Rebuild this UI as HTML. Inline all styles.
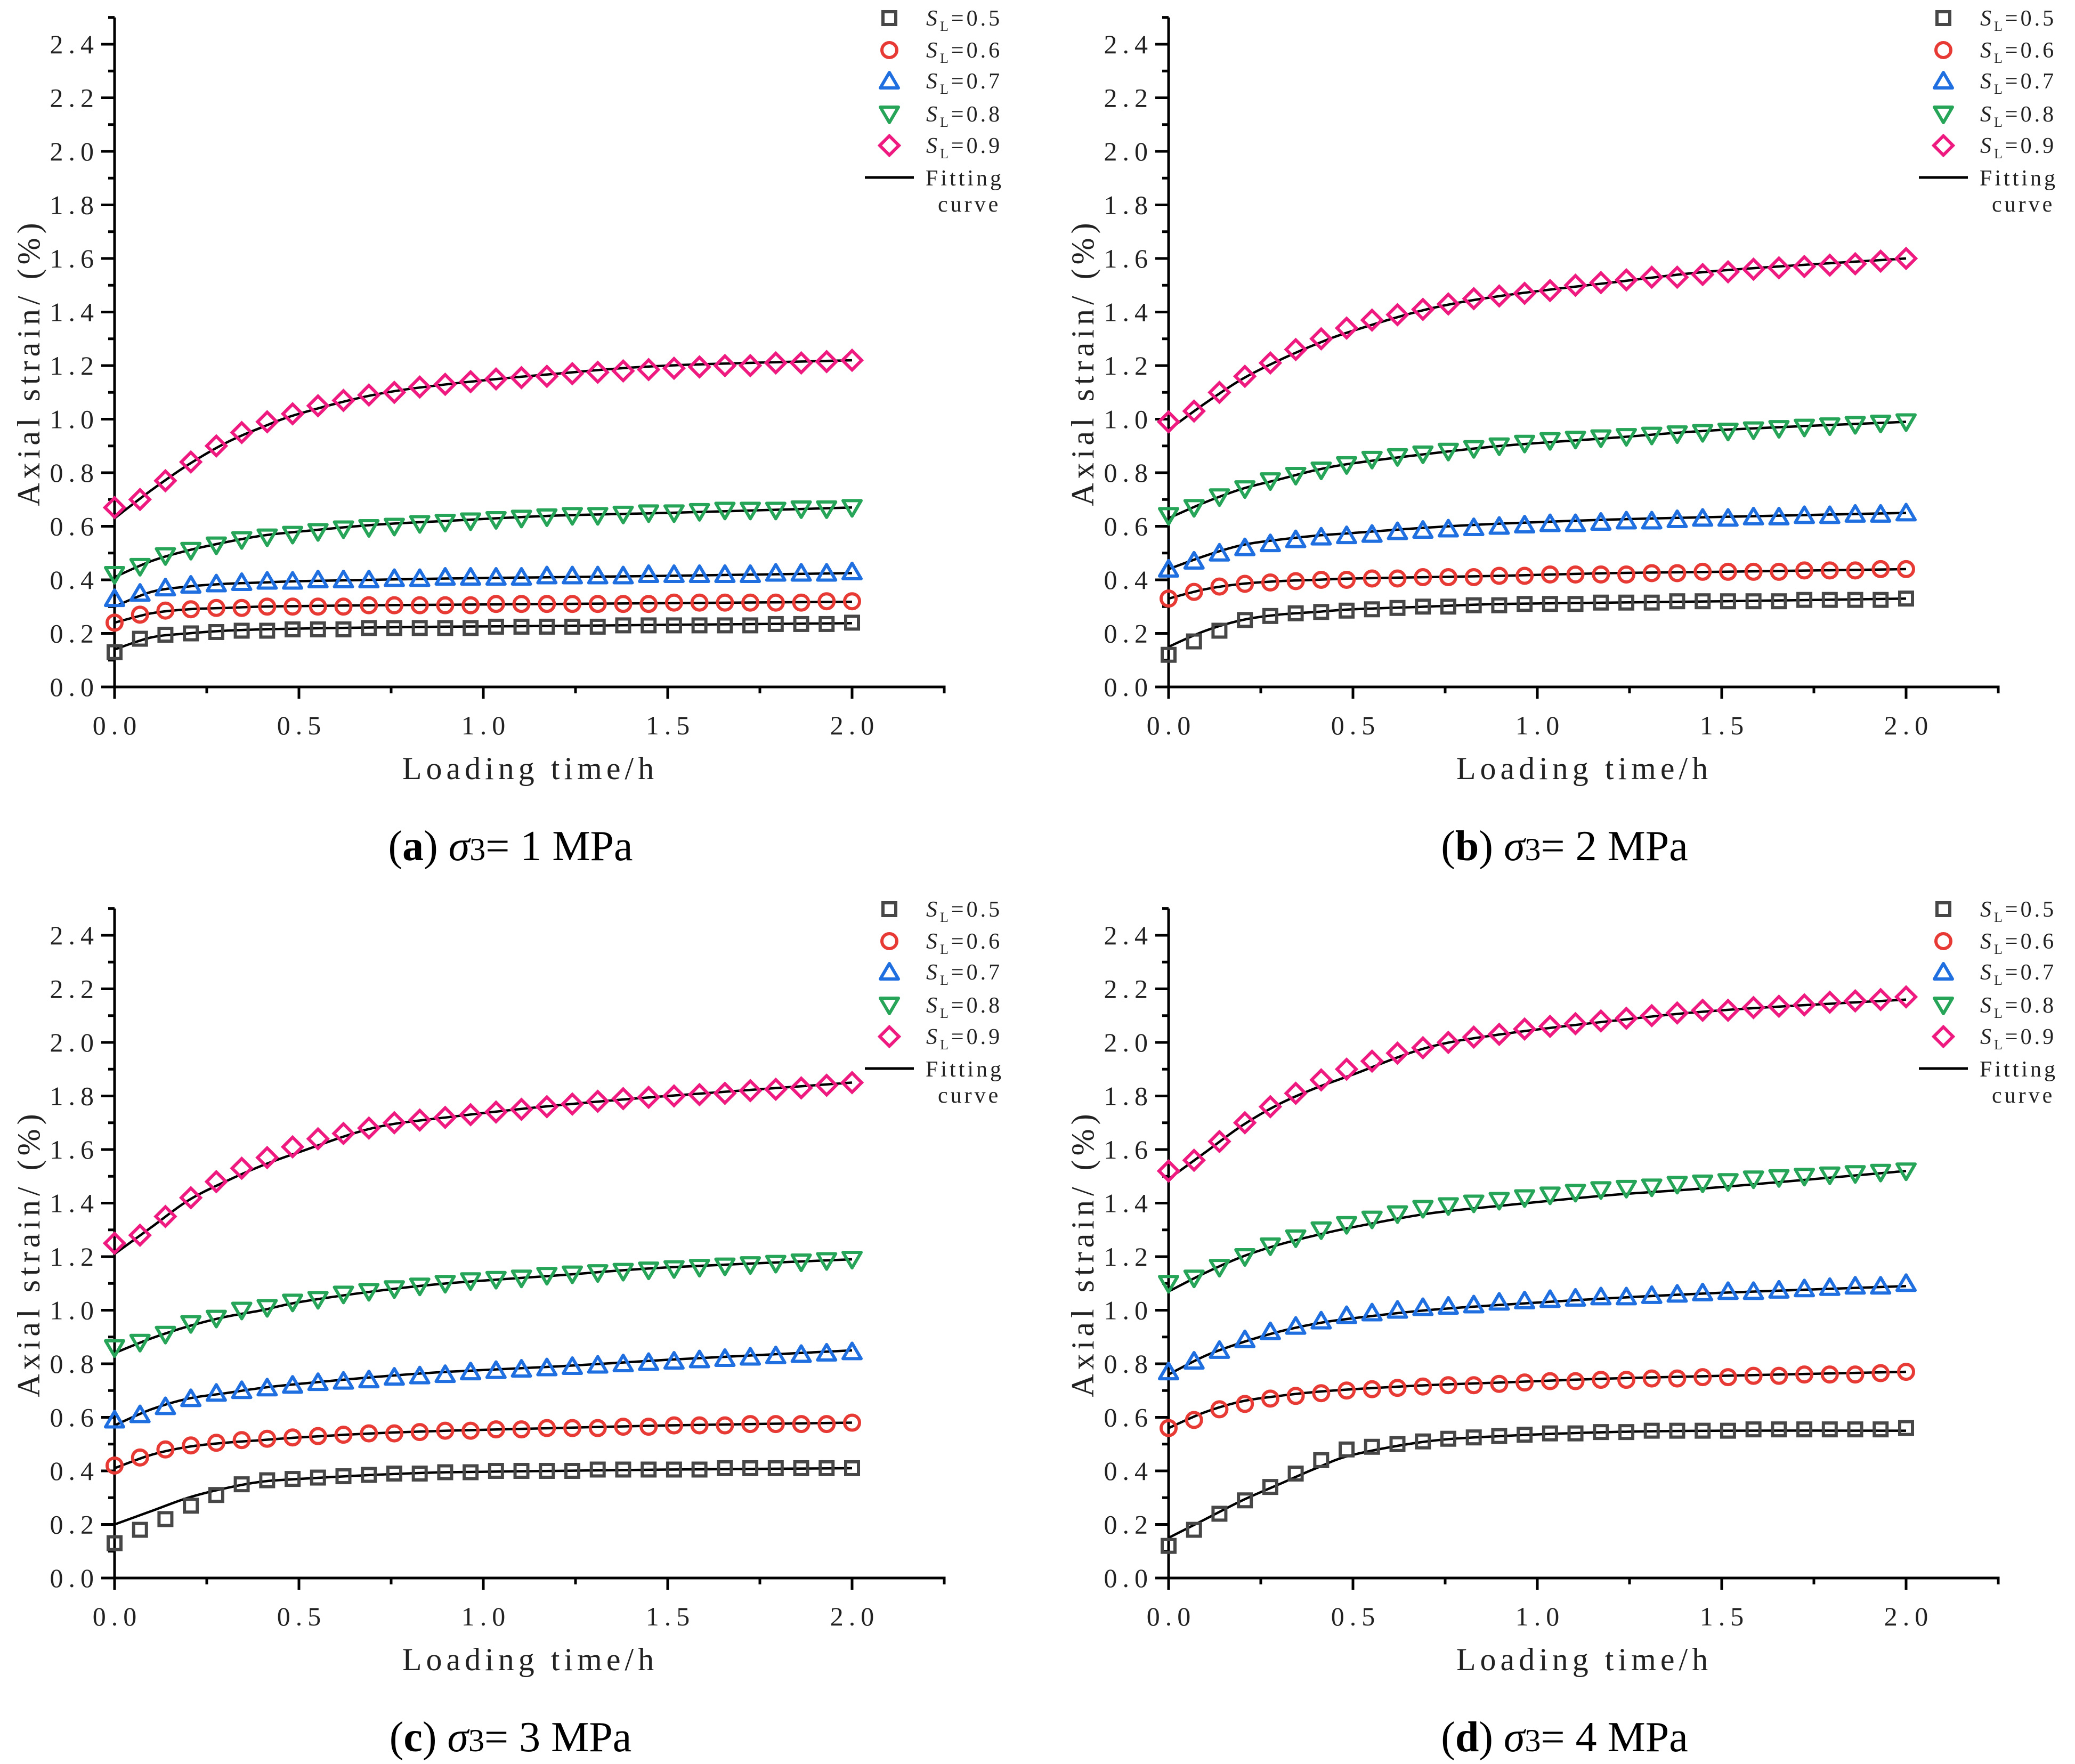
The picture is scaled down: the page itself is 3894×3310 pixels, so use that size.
<!DOCTYPE html>
<html><head><meta charset="utf-8"><style>
html,body{margin:0;padding:0;background:#fff;}
svg{display:block;}
.tk{font-family:"Liberation Serif","Noto Serif CJK SC",serif;font-size:50px;fill:#222;letter-spacing:10px;}
.at{font-family:"Liberation Serif","Noto Serif CJK SC",serif;font-size:60px;fill:#222;letter-spacing:8px;}
.lg{font-family:"Liberation Serif",serif;font-size:42px;fill:#222;letter-spacing:5px;}
.cap{font-family:"Liberation Serif",serif;font-size:80px;fill:#000;}
</style></head><body>
<svg id="fig" width="3894" height="3310" viewBox="0 0 3894 3310" xmlns="http://www.w3.org/2000/svg"></svg>
<script>
const tData = []; // 30 sample times, 0..2 h
for (let i = 0; i < 30; i++) tData.push(+(i * 2 / 29).toFixed(4));
const tFit = [0,0.1,0.2,0.3,0.4,0.5,0.7,0.9,1.2,1.5,2.0];
const seriesLabels = ["SL=0.5","SL=0.6","SL=0.7","SL=0.8","SL=0.9"];
const yTicks = [0,0.2,0.4,0.6,0.8,1.0,1.2,1.4,1.6,1.8,2.0,2.2,2.4];
const xTicks = [0,0.5,1.0,1.5,2.0];
const captionsLetter = ["a","b","c","d"];
const captionsValue = ["1","2","3","4"];

const a05=[0.13,0.18,0.195,0.20,0.205,0.21,0.21,0.215,0.215,0.215,0.22,0.22,0.22,0.22,0.22,0.225,0.225,0.225,0.225,0.225,0.23,0.23,0.23,0.23,0.23,0.23,0.235,0.235,0.235,0.24];
const a06=[0.24,0.27,0.285,0.29,0.295,0.295,0.30,0.30,0.30,0.30,0.305,0.305,0.305,0.305,0.305,0.31,0.31,0.31,0.31,0.31,0.31,0.31,0.315,0.315,0.315,0.315,0.315,0.315,0.32,0.32];
const a07=[0.33,0.35,0.37,0.38,0.385,0.39,0.395,0.395,0.40,0.40,0.40,0.405,0.405,0.41,0.41,0.41,0.41,0.415,0.415,0.415,0.415,0.42,0.42,0.42,0.42,0.42,0.425,0.425,0.425,0.43];
const a08=[0.42,0.45,0.49,0.51,0.53,0.55,0.56,0.57,0.58,0.59,0.595,0.60,0.61,0.615,0.62,0.625,0.63,0.635,0.64,0.64,0.645,0.65,0.65,0.655,0.66,0.66,0.66,0.665,0.665,0.67];
const a09=[0.67,0.70,0.77,0.84,0.90,0.95,0.99,1.02,1.05,1.07,1.09,1.10,1.12,1.13,1.14,1.15,1.155,1.16,1.17,1.175,1.18,1.185,1.19,1.195,1.20,1.20,1.21,1.21,1.215,1.22];
const aF05=[0.14,0.185,0.20,0.21,0.215,0.218,0.222,0.225,0.228,0.232,0.238];
const aF06=[0.24,0.275,0.29,0.295,0.30,0.302,0.305,0.307,0.31,0.313,0.318];
const aF07=[0.30,0.355,0.375,0.385,0.39,0.395,0.40,0.405,0.41,0.415,0.425];
const aF08=[0.41,0.47,0.51,0.54,0.565,0.58,0.605,0.62,0.64,0.65,0.67];
const aF09=[0.63,0.735,0.83,0.91,0.97,1.02,1.09,1.13,1.17,1.20,1.22];

const b05=[0.12,0.17,0.21,0.25,0.265,0.275,0.28,0.285,0.29,0.295,0.30,0.30,0.305,0.305,0.31,0.31,0.31,0.315,0.315,0.315,0.32,0.32,0.32,0.32,0.32,0.325,0.325,0.325,0.325,0.33];
const b06=[0.33,0.355,0.375,0.385,0.39,0.395,0.40,0.40,0.405,0.405,0.41,0.41,0.41,0.415,0.415,0.42,0.42,0.42,0.42,0.425,0.425,0.43,0.43,0.43,0.43,0.435,0.435,0.435,0.44,0.44];
const b07=[0.44,0.47,0.50,0.52,0.535,0.55,0.56,0.565,0.57,0.58,0.585,0.59,0.595,0.60,0.605,0.61,0.61,0.615,0.62,0.62,0.625,0.63,0.63,0.635,0.635,0.64,0.64,0.645,0.645,0.65];
const b08=[0.64,0.67,0.71,0.74,0.77,0.79,0.81,0.83,0.85,0.86,0.87,0.88,0.89,0.90,0.91,0.92,0.925,0.93,0.935,0.94,0.945,0.95,0.955,0.96,0.965,0.97,0.975,0.98,0.985,0.99];
const b09=[0.99,1.03,1.10,1.16,1.21,1.26,1.30,1.34,1.37,1.39,1.41,1.43,1.45,1.46,1.47,1.48,1.50,1.51,1.52,1.53,1.53,1.54,1.55,1.56,1.565,1.57,1.575,1.58,1.59,1.60];
const bF05=[0.15,0.21,0.25,0.27,0.28,0.29,0.30,0.31,0.315,0.32,0.33];
const bF06=[0.33,0.365,0.385,0.395,0.40,0.405,0.41,0.415,0.425,0.43,0.44];
const bF07=[0.44,0.49,0.53,0.55,0.565,0.575,0.595,0.61,0.625,0.635,0.65];
const bF08=[0.63,0.69,0.74,0.775,0.81,0.835,0.87,0.90,0.93,0.96,0.99];
const bF09=[0.96,1.06,1.15,1.22,1.28,1.33,1.41,1.46,1.51,1.555,1.60];

const c05=[0.13,0.18,0.22,0.27,0.31,0.35,0.365,0.37,0.375,0.38,0.385,0.39,0.39,0.395,0.395,0.40,0.40,0.40,0.40,0.405,0.405,0.405,0.405,0.405,0.41,0.41,0.41,0.41,0.41,0.41];
const c06=[0.42,0.45,0.48,0.495,0.505,0.515,0.52,0.525,0.53,0.535,0.54,0.54,0.545,0.55,0.55,0.555,0.555,0.56,0.56,0.56,0.565,0.565,0.57,0.57,0.57,0.575,0.575,0.575,0.575,0.58];
const c07=[0.59,0.61,0.64,0.67,0.69,0.70,0.71,0.72,0.73,0.735,0.74,0.75,0.755,0.76,0.77,0.775,0.78,0.785,0.79,0.795,0.80,0.805,0.81,0.815,0.82,0.825,0.83,0.835,0.84,0.845];
const c08=[0.86,0.88,0.91,0.95,0.97,1.00,1.01,1.03,1.04,1.06,1.07,1.08,1.09,1.10,1.11,1.115,1.12,1.13,1.135,1.14,1.145,1.15,1.155,1.16,1.165,1.17,1.175,1.18,1.185,1.19];
const c09=[1.25,1.28,1.35,1.42,1.48,1.53,1.57,1.61,1.64,1.66,1.68,1.70,1.71,1.72,1.73,1.74,1.75,1.76,1.77,1.78,1.79,1.795,1.80,1.805,1.81,1.82,1.825,1.83,1.84,1.85];
const cF05=[0.20,0.25,0.30,0.335,0.36,0.37,0.385,0.395,0.40,0.405,0.41];
const cF06=[0.41,0.46,0.49,0.505,0.515,0.525,0.54,0.55,0.56,0.57,0.58];
const cF07=[0.57,0.63,0.67,0.69,0.71,0.725,0.75,0.77,0.79,0.815,0.85];
const cF08=[0.84,0.895,0.94,0.975,1.00,1.03,1.07,1.10,1.13,1.16,1.19];
const cF09=[1.21,1.31,1.41,1.48,1.54,1.59,1.68,1.72,1.765,1.80,1.85];

const d05=[0.12,0.18,0.24,0.29,0.34,0.39,0.44,0.48,0.49,0.50,0.51,0.52,0.525,0.53,0.535,0.54,0.54,0.545,0.545,0.55,0.55,0.55,0.55,0.555,0.555,0.555,0.555,0.555,0.555,0.56];
const d06=[0.56,0.59,0.63,0.65,0.67,0.68,0.69,0.70,0.705,0.71,0.715,0.72,0.72,0.725,0.73,0.735,0.735,0.74,0.74,0.745,0.745,0.75,0.75,0.755,0.755,0.76,0.76,0.76,0.765,0.77];
const d07=[0.77,0.81,0.85,0.89,0.92,0.94,0.96,0.98,0.99,1.00,1.01,1.015,1.02,1.03,1.035,1.04,1.045,1.05,1.05,1.055,1.06,1.065,1.07,1.07,1.075,1.08,1.085,1.09,1.09,1.10];
const d08=[1.10,1.12,1.16,1.20,1.24,1.27,1.30,1.32,1.34,1.36,1.38,1.39,1.40,1.41,1.42,1.43,1.44,1.45,1.455,1.46,1.47,1.475,1.48,1.49,1.495,1.50,1.505,1.51,1.515,1.52];
const d09=[1.52,1.56,1.63,1.70,1.76,1.81,1.86,1.90,1.93,1.96,1.98,2.00,2.02,2.03,2.05,2.06,2.07,2.08,2.09,2.10,2.11,2.12,2.12,2.13,2.135,2.14,2.15,2.155,2.16,2.17];
const dF05=[0.15,0.22,0.29,0.35,0.41,0.46,0.51,0.53,0.545,0.55,0.55];
const dF06=[0.56,0.62,0.66,0.68,0.695,0.705,0.72,0.73,0.745,0.755,0.77];
const dF07=[0.76,0.83,0.88,0.92,0.95,0.97,1.00,1.02,1.045,1.065,1.09];
const dF08=[1.07,1.14,1.20,1.245,1.28,1.31,1.36,1.39,1.43,1.46,1.52];
const dF09=[1.49,1.59,1.69,1.77,1.83,1.88,1.98,2.03,2.08,2.12,2.16];

const panelData=[[a05,a06,a07,a08,a09],[b05,b06,b07,b08,b09],[c05,c06,c07,c08,c09],[d05,d06,d07,d08,d09]];
const panelFits=[[aF05,aF06,aF07,aF08,aF09],[bF05,bF06,bF07,bF08,bF09],[cF05,cF06,cF07,cF08,cF09],[dF05,dF06,dF07,dF08,dF09]];

const NS="http://www.w3.org/2000/svg";
const svg=document.getElementById('fig');
const colors=["#474747","#e83a35","#1f6fe0","#26a458","#ee1a7f"];
const offs=[[0,0],[1978,0],[0,1672],[1978,1672]];
const X0=215,Y0=1289,PX=692,PY=502.5;
function mk(tag,attrs,parent){const e=document.createElementNS(NS,tag);for(const k in attrs)e.setAttribute(k,attrs[k]);(parent||svg).appendChild(e);return e;}
function smooth(pts){let d="M"+pts[0][0]+","+pts[0][1];for(let i=0;i<pts.length-1;i++){const p0=pts[i-1]||pts[i],p1=pts[i],p2=pts[i+1],p3=pts[i+2]||p2;
const c1x=p1[0]+(p2[0]-p0[0])/6,c1y=p1[1]+(p2[1]-p0[1])/6,c2x=p2[0]-(p3[0]-p1[0])/6,c2y=p2[1]-(p3[1]-p1[1])/6;
d+=" C"+c1x.toFixed(1)+","+c1y.toFixed(1)+" "+c2x.toFixed(1)+","+c2y.toFixed(1)+" "+p2[0].toFixed(1)+","+p2[1].toFixed(1);}return d;}
function marker(g,k,x,y){const c=colors[k],sw=6;let e;
if(k===0){e=mk('rect',{x:x-12,y:y-12,width:24,height:24,fill:'none',stroke:c,'stroke-width':sw},g);}
else if(k===1){e=mk('circle',{cx:x,cy:y,r:14,fill:'none',stroke:c,'stroke-width':sw},g);}
else if(k===2){e=mk('polygon',{points:`${x},${y-16} ${x+17},${y+13} ${x-17},${y+13}`,fill:'none',stroke:c,'stroke-width':sw,'stroke-linejoin':'round'},g);}
else if(k===3){e=mk('polygon',{points:`${x},${y+16} ${x+17},${y-13} ${x-17},${y-13}`,fill:'none',stroke:c,'stroke-width':sw,'stroke-linejoin':'round'},g);}
else {e=mk('polygon',{points:`${x},${y-18} ${x+18},${y} ${x},${y+18} ${x-18},${y}`,fill:'none',stroke:c,'stroke-width':sw},g);}
return e;}

offs.forEach((o,p)=>{
  const g=mk('g',{transform:`translate(${o[0]},${o[1]})`});
  
  
  const sx=t=>X0+t*PX, sy=v=>Y0-v*PY;
  const ax=mk('path',{d:`M${X0},${sy(2.5)} V${Y0} H${sx(2.25)} V${Y0+12} M${X0},${sy(2.5)} H${X0-12}`,fill:'none',stroke:'#000','stroke-width':5},g);
  
  
  for(let i=0;i<=25;i++){const v=i*0.1,len=(i%2===0)?25:12;mk('line',{x1:X0,x2:X0-len,y1:sy(v),y2:sy(v),stroke:'#000','stroke-width':5},g);}
  for(let i=0;i<=9;i++){const t=i*0.25,len=(i%2===0)?22:12;mk('line',{x1:sx(t),x2:sx(t),y1:Y0,y2:Y0+len,stroke:'#000','stroke-width':5},g);}
  yTicks.forEach(v=>{const e=mk('text',{x:186,y:sy(v)+17,'text-anchor':'end',class:'tk'},g);e.textContent=v.toFixed(1);
    });
  xTicks.forEach(v=>{const e=mk('text',{x:sx(v)+5,y:1378,'text-anchor':'middle',class:'tk'},g);e.textContent=v.toFixed(1);
    });
  const xt=mk('text',{x:995,y:1462,'text-anchor':'middle',class:'at'},g);xt.textContent='Loading time/h';
  
  const yt=mk('text',{x:0,y:0,'text-anchor':'middle',class:'at',transform:'translate(74,680) rotate(-90)'},g);yt.textContent='Axial strain/ (%)';
  
  panelFits[p].forEach((f,k)=>{const pts=f.map((v,i)=>[sx(tFit[i]),sy(v)]);
    const e=mk('path',{d:smooth(pts),fill:'none',stroke:'#000','stroke-width':4.5},g);
    
    });
  panelData[p].forEach((arr,k)=>{arr.forEach((v,i)=>{const e=marker(g,k,sx(tData[i]),sy(v));
    });});
  const lg=mk('g',{},g);
  
  
  const ly=[34,94,152,214,273];
  const vals=["5","6","7","8","9"];
  ly.forEach((y,k)=>{marker(lg,k,1669,y);
    const e=mk('text',{x:1738,y:y+14,class:'lg'},lg);
    
    const s1=mk('tspan',{'font-style':'italic'},e);s1.textContent='S';
    const s2=mk('tspan',{'font-size':'26px',dy:'10'},e);s2.textContent='L';
    const s3=mk('tspan',{dy:'-10'},e);s3.textContent='=0.'+vals[k];});
  mk('line',{x1:1623,x2:1715,y1:333,y2:333,stroke:'#000','stroke-width':5},lg);
  const f1=mk('text',{x:1737,y:348,class:'lg'},lg);f1.textContent='Fitting';
  const f2=mk('text',{x:1760,y:397,class:'lg'},lg);f2.textContent='curve';
  const cp=mk('text',{x:958,y:1614,'text-anchor':'middle',class:'cap'},g);
  
  const c1=mk('tspan',{},cp);c1.textContent='(';
  const c2=mk('tspan',{'font-weight':'bold'},cp);c2.textContent=captionsLetter[p];
  const c3=mk('tspan',{},cp);c3.textContent=') ';
  const c4=mk('tspan',{'font-style':'italic'},cp);c4.textContent='σ';
  const c5=mk('tspan',{'font-size':'60px'},cp);c5.textContent='3';
  const c6=mk('tspan',{},cp);c6.textContent='= '+captionsValue[p]+' MPa';
});
</script>
</body></html>
